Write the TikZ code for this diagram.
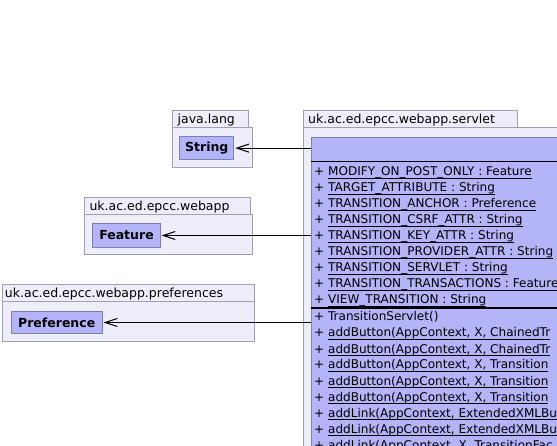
\documentclass[tikz,border=0pt]{standalone}
\usepackage{fontspec}
\setmainfont{DejaVu Sans}
\usetikzlibrary{arrows.meta}
\definecolor{pkgfill}{RGB}{238,238,251}
\definecolor{pkgdraw}{RGB}{160,160,180}
\definecolor{clsfill}{RGB}{180,180,248}
\definecolor{clsdraw}{RGB}{128,128,176}
\newcommand\uln[1]{\setbox0\hbox{#1}\rlap{\rule[-2.7pt]{\wd0}{0.9pt}}\box0}
\begin{document}
\begin{tikzpicture}[x=1pt,y=-1pt,
  every node/.style={font=\fontsize{12.5}{15}\selectfont},
  pkgbox/.style={draw=pkgdraw, fill=pkgfill, line width=1pt, inner sep=0pt, anchor=north west},
  clsbox/.style={draw=clsdraw, fill=clsfill, line width=1pt, inner sep=0pt, anchor=north west},
  clsname/.style={font=\fontsize{12.5}{15}\selectfont\bfseries, inner sep=0pt},
  pkglabel/.style={anchor=base west, inner sep=0pt},
  member/.style={anchor=base west, inner sep=0pt, font=\fontsize{12.05}{15}\selectfont},
  assoc/.style={line width=1pt, -{Straight Barb[length=12pt,width=8pt]}, shorten >=1pt}
]
\useasboundingbox (0,0) rectangle (557,446);
\clip (0,0) rectangle (557,446);

% java.lang
\node[pkgbox, minimum width=76.3pt, minimum height=16.5pt] (jltab) at (171.7,110.5) {};
\node[pkgbox, minimum width=80.3pt, minimum height=40pt] (jlbody) at (171.7,127) {};
\node[pkglabel] (jllab) at (177.5,123.2) {java.lang};
\node[clsbox, minimum width=54pt, minimum height=23.3pt] (stringbox) at (179.3,136) {};
\node[clsname] (string) at (stringbox.center) {String};

% uk.ac.ed.epcc.webapp
\node[pkgbox, minimum width=166pt, minimum height=17pt] (watab) at (84.3,197.5) {};
\node[pkgbox, minimum width=168pt, minimum height=39.5pt] (wabody) at (84.3,214.5) {};
\node[pkglabel] (walab) at (89.3,210.5) {uk.ac.ed.epcc.webapp};
\node[clsbox, minimum width=67.4pt, minimum height=23.4pt] (featurebox) at (92.3,223.3) {};
\node[clsname] (feature) at (featurebox.center) {Feature};

% uk.ac.ed.epcc.webapp.preferences
\node[pkgbox, minimum width=251.3pt, minimum height=17pt] (prtab) at (2.3,284.5) {};
\node[pkgbox, minimum width=251.3pt, minimum height=39.5pt] (prbody) at (2.3,301.5) {};
\node[pkglabel] (prlab) at (4.8,297.3) {uk.ac.ed.epcc.webapp.preferences};
\node[clsbox, minimum width=91pt, minimum height=22.6pt] (prefbox) at (10.7,310.7) {};
\node[clsname] (pref) at (prefbox.center) {Preference};

% uk.ac.ed.epcc.webapp.servlet
\node[pkgbox, minimum width=214.6pt, minimum height=16.5pt] (svtab) at (302.7,110.5) {};
\node[pkgbox, minimum width=400pt, minimum height=400pt] (svbody) at (302.7,127) {};
\node[pkglabel] (svlab) at (308,123.2) {uk.ac.ed.epcc.webapp.servlet};
\node[clsbox, minimum width=400pt, minimum height=400pt] (servlet) at (310.7,136.7) {};
\draw[line width=1pt] ([yshift=-25pt]servlet.north west) -- ++(300,0);
\draw[line width=2pt] ([yshift=-171.8pt]servlet.north west) -- ++(300,0);

% attributes
\node[member] (a1) at (314,176) {+ \uln{MODIFY\_ON\_POST\_ONLY : Feature}};
\node[member] (a2) at (314,192) {+ \uln{TARGET\_ATTRIBUTE : String}};
\node[member] (a3) at (314,208) {+ \uln{TRANSITION\_ANCHOR : Preference}};
\node[member] (a4) at (314,224) {+ \uln{TRANSITION\_CSRF\_ATTR : String}};
\node[member] (a5) at (314,240) {+ \uln{TRANSITION\_KEY\_ATTR : String}};
\node[member] (a6) at (314,256) {+ \uln{TRANSITION\_PROVIDER\_ATTR : String}};
\node[member] (a7) at (314,272) {+ \uln{TRANSITION\_SERVLET : String}};
\node[member] (a8) at (314,288) {+ \uln{TRANSITION\_TRANSACTIONS : Feature}};
\node[member] (a9) at (314,304) {+ \uln{VIEW\_TRANSITION : String}};

% methods
\node[member] (m0) at (314,321) {+ TransitionServlet()};
\node[member] (m1) at (314,337) {+ \uln{addButton(AppContext, X, ChainedTr}};
\node[member] (m2) at (314,353) {+ \uln{addButton(AppContext, X, ChainedTr}};
\node[member] (m3) at (314,369) {+ \uln{addButton(AppContext, X, Transition}};
\node[member] (m4) at (314,385) {+ \uln{addButton(AppContext, X, Transition}};
\node[member] (m5) at (314,401) {+ \uln{addButton(AppContext, X, Transition}};
\node[member] (m6) at (314,417) {+ \uln{addLink(AppContext, ExtendedXMLBu}};
\node[member] (m7) at (314,433) {+ \uln{addLink(AppContext, ExtendedXMLBu}};
\node[member] (m8) at (314,449) {+ \uln{addLink(AppContext, X, TransitionFac}};

% associations
\coordinate (s1) at (servlet.west |- stringbox.east);
\coordinate (s2) at (servlet.west |- featurebox.east);
\coordinate (s3) at (servlet.west |- prefbox.east);
\draw[assoc] (s1) -- (stringbox.east);
\draw[assoc] (s2) -- (featurebox.east);
\draw[assoc] (s3) -- (prefbox.east);
\end{tikzpicture}
\end{document}
